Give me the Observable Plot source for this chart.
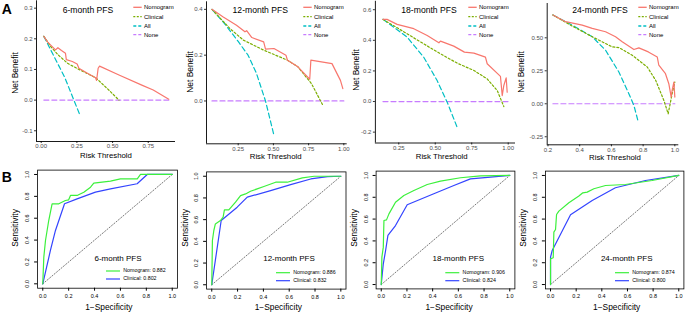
<!DOCTYPE html>
<html><head><meta charset="utf-8">
<script src="https://cdn.jsdelivr.net/npm/d3@7"></script>
<script src="https://cdn.jsdelivr.net/npm/@observablehq/plot@0.6"></script>
<style>
body{margin:0;background:#fff;}
#wrap{position:relative;width:685px;height:313px;overflow:hidden;font-family:"Liberation Sans",Arial,sans-serif;background:#fff;}
#wrap svg.plt{position:absolute;left:0;top:0;}
.t{position:absolute;white-space:nowrap;color:#000;line-height:1;}
</style></head><body><div id="wrap"></div>
<script>
// ---------------- DATA ----------------
const dcaTitles = ["6-month PFS","12-month PFS","18-month PFS","24-month PFS"];
const dcaSeries = ["Nomogram","Clinical","All","None"];
const rocSeries = ["Nomogram","Clinical"];
const rocAuc = [[0.882,0.802],[0.886,0.832],[0.906,0.824],[0.874,0.800]];

// Decision curves: [risk threshold, net benefit]
const nom6 = [[0.0185,0.208],[0.044,0.19],[0.100,0.164],[0.117,0.171],[0.142,0.162],[0.170,0.153],[0.176,0.132],[0.218,0.126],[0.252,0.118],[0.264,0.104],[0.327,0.087],[0.381,0.073],[0.388,0.064],[0.399,0.104],[0.409,0.111],[0.545,0.082],[0.709,0.048],[0.785,0.033],[0.894,0.003]];
const clin6 = [[0.0185,0.208],[0.065,0.176],[0.12,0.147],[0.185,0.12],[0.273,0.098],[0.382,0.073],[0.469,0.035],[0.545,0.0]];
const all6 = [[0.0185,0.208],[0.087,0.145],[0.164,0.075],[0.229,0.0],[0.268,-0.045]];
const none6 = [[0.0185,0],[0.894,0]];

const nom12 = [[0.064,0.40],[0.141,0.368],[0.238,0.331],[0.298,0.302],[0.31,0.307],[0.347,0.277],[0.431,0.258],[0.444,0.226],[0.504,0.229],[0.589,0.20],[0.60,0.178],[0.674,0.149],[0.758,0.095],[0.766,0.178],[0.916,0.163],[0.976,0.09],[0.993,0.054]];
const clin12 = [[0.064,0.40],[0.19,0.317],[0.286,0.266],[0.431,0.222],[0.60,0.178],[0.674,0.149],[0.77,0.076],[0.855,-0.023]];
const all12 = [[0.064,0.40],[0.15,0.34],[0.25,0.26],[0.32,0.20],[0.38,0.12],[0.444,0.0],[0.504,-0.15]];
const none12 = [[0.064,0],[1.0,0]];

const nom18 = [[0.142,0.537],[0.17,0.537],[0.239,0.504],[0.353,0.476],[0.445,0.432],[0.525,0.384],[0.536,0.395],[0.627,0.362],[0.70,0.323],[0.765,0.316],[0.844,0.29],[0.856,0.247],[0.947,0.164],[0.959,0.039],[0.97,0.105],[0.986,0.155],[0.993,0.061]];
const clin18 = [[0.142,0.537],[0.307,0.443],[0.421,0.377],[0.536,0.312],[0.65,0.251],[0.765,0.203],[0.856,0.148],[0.925,0.072],[0.97,-0.033]];
const all18 = [[0.142,0.537],[0.307,0.421],[0.421,0.29],[0.513,0.137],[0.582,-0.004],[0.65,-0.168]];
const none18 = [[0.142,0],[1.0,0]];

const nom24 = [[0.231,0.673],[0.311,0.622],[0.416,0.596],[0.479,0.571],[0.563,0.546],[0.626,0.508],[0.668,0.47],[0.742,0.411],[0.773,0.424],[0.833,0.393],[0.889,0.355],[0.899,0.292],[0.941,0.228],[0.962,0.152],[0.977,0.051],[0.983,0.102],[0.994,0.165],[1.0,0.051]];
const clin24 = [[0.231,0.673],[0.353,0.589],[0.479,0.508],[0.605,0.431],[0.647,0.426],[0.731,0.368],[0.826,0.279],[0.879,0.178],[0.931,0.025],[0.958,-0.076],[0.983,0.076],[1.0,0.165]];
const all24 = [[0.231,0.673],[0.353,0.596],[0.479,0.508],[0.563,0.406],[0.647,0.241],[0.71,0.076],[0.742,-0.013],[0.767,-0.127]];
const none24 = [[0.231,0],[1.0,0]];

// ROC curves: [1-specificity, sensitivity]
const rocNom6 = [[0,0],[0.008,0.244],[0.021,0.396],[0.046,0.579],[0.072,0.732],[0.124,0.732],[0.175,0.762],[0.2,0.768],[0.214,0.808],[0.265,0.808],[0.317,0.838],[0.369,0.884],[0.394,0.921],[0.523,0.939],[0.6,0.96],[0.73,0.96],[0.755,1.0],[1,1]];
const rocClin6 = [[0,0],[0.059,0.305],[0.098,0.488],[0.168,0.732],[0.265,0.777],[0.407,0.838],[0.523,0.869],[0.729,0.915],[0.807,1.0],[1,1]];
const rocNom12 = [[0,0],[0.005,0.408],[0.016,0.5],[0.028,0.561],[0.067,0.592],[0.088,0.623],[0.098,0.69],[0.132,0.69],[0.184,0.761],[0.223,0.822],[0.262,0.837],[0.3,0.862],[0.404,0.905],[0.495,0.945],[0.585,0.945],[0.702,0.985],[0.793,1.0],[1,1]];
const rocClin12 = [[0,0],[0.073,0.592],[0.197,0.715],[0.275,0.807],[0.456,0.868],[0.611,0.923],[0.767,0.975],[0.896,0.997],[1,1]];
const rocNom18 = [[0,0],[0.005,0.251],[0.016,0.343],[0.021,0.587],[0.041,0.593],[0.06,0.648],[0.111,0.755],[0.176,0.817],[0.254,0.862],[0.358,0.917],[0.461,0.948],[0.617,0.979],[0.772,0.997],[1,1]];
const rocClin18 = [[0,0],[0.016,0.19],[0.034,0.312],[0.052,0.45],[0.111,0.541],[0.202,0.731],[0.409,0.832],[0.565,0.908],[0.694,0.969],[0.85,0.985],[1,1]];
const rocNom24 = [[0,0],[0,0.235],[0.021,0.245],[0.026,0.48],[0.039,0.505],[0.047,0.642],[0.065,0.673],[0.143,0.75],[0.221,0.811],[0.252,0.841],[0.286,0.847],[0.338,0.878],[0.429,0.908],[0.584,0.917],[0.792,0.954],[1,1]];
const rocClin24 = [[0,0],[0,0.251],[0.013,0.312],[0.156,0.639],[0.325,0.771],[0.506,0.887],[0.74,0.954],[1,1]];

// Tick values
const dcaXTicks = [[0,0.25,0.5,0.75],[0.25,0.5,0.75,1],[0.25,0.5,0.75,1],[0.2,0.4,0.6,0.8,1.0]];
const dcaYTicks = [[-0.1,0,0.1,0.2,0.3],[0,0.2,0.4],[-0.2,0,0.2,0.4,0.6],[-0.25,0,0.25,0.5]];
const rocTicks = [0,0.2,0.4,0.6,0.8,1.0];

// ---------------- DRAW ----------------
const W = 685, H = 313;
const wrap = document.getElementById("wrap");
const COL = {Nomogram:"#F8766D", Clinical:"#7CAE00", All:"#00BFC4", None:"#C77CFF"};
const DASH = {Nomogram:null, Clinical:"2,2", All:"5,3", None:"5,3"};
const ROCCOL = {Nomogram:"#3cf03c", Clinical:"#3344ff"};

function txt(s, x, y, opt = {}) {
  const d = document.createElement("div");
  d.className = "t";
  d.textContent = s;
  d.style.left = x + "px"; d.style.top = y + "px";
  d.style.fontSize = (opt.size || 8) + "px";
  d.style.fontWeight = opt.bold ? "bold" : "normal";
  d.style.color = opt.color || "#000";
  let tr = opt.anchor === "start" ? "translate(0,-50%)" : "translate(-50%,-50%)";
  if (opt.rotate) tr += ` rotate(${opt.rotate}deg)`;
  d.style.transform = tr;
  wrap.append(d);
}
const NS = "http://www.w3.org/2000/svg";
const swSvg = document.createElementNS(NS, "svg");
swSvg.setAttribute("width", W); swSvg.setAttribute("height", H);
swSvg.style.position = "absolute"; swSvg.style.left = "0"; swSvg.style.top = "0";
function swatch(x1, x2, y, color, dash, w) {
  const l = document.createElementNS(NS, "line");
  l.setAttribute("x1", x1); l.setAttribute("x2", x2); l.setAttribute("y1", y); l.setAttribute("y2", y);
  l.setAttribute("stroke", color); l.setAttribute("stroke-width", w);
  if (dash) l.setAttribute("stroke-dasharray", dash);
  swSvg.append(l);
}
function addPlot(svg) { svg.classList.add("plt"); wrap.append(svg); }

const dcaData = [[nom6,clin6,all6,none6],[nom12,clin12,all12,none12],[nom18,clin18,all18,none18],[nom24,clin24,all24,none24]];
const dcaLayout = [
  {L:36, R:175, T:0.3, B:141, xd:[-0.033,0.941], yd:[-0.135,0.324], xf:2, yf:1},
  {L:206, R:346.7, T:1.3, B:143.3, xd:[0.025,1.024], yd:[-0.187,0.433], xf:2, yf:1},
  {L:374.9, R:515, T:0.8, B:142.5, xd:[0.09,1.05], yd:[-0.271,0.655], xf:2, yf:1},
  {L:546.7, R:678.3, T:3, B:144.3, xd:[0.195,1.025], yd:[-0.311,0.76], xf:1, yf:2}
];
dcaLayout.forEach((g, i) => {
  const marks = [
    Plot.axisX({ticks: dcaXTicks[i], tickFormat: d => d.toFixed(g.xf), tickSize: 2, tickPadding: 0.5, fontSize: 6, stroke: "#333", fill: "#4d4d4d", label: null}),
    Plot.axisY({ticks: dcaYTicks[i], tickFormat: d => d.toFixed(g.yf), tickSize: 2, tickPadding: 2, fontSize: 6, stroke: "#333", fill: "#4d4d4d", label: null}),
    Plot.ruleX([g.xd[0]], {stroke: "#000", strokeWidth: 0.9}),
    Plot.ruleY([g.yd[0]], {stroke: "#000", strokeWidth: 0.9})
  ];
  [3,2,1,0].forEach(k => {
    const s = dcaSeries[k];
    marks.push(Plot.line(dcaData[i][k], {x: d => d[0], y: d => d[1], stroke: COL[s], strokeWidth: 1.2, strokeDasharray: DASH[s]}));
  });
  addPlot(Plot.plot({
    width: W, height: H,
    marginLeft: g.L, marginRight: W - g.R, marginTop: g.T, marginBottom: H - g.B,
    x: {domain: g.xd}, y: {domain: g.yd},
    style: {background: "transparent", fontFamily: "Liberation Sans, Arial, sans-serif", overflow: "visible"},
    marks
  }));
});

const rocData = [[rocNom6,rocClin6],[rocNom12,rocClin12],[rocNom18,rocClin18],[rocNom24,rocClin24]];
const rocLayout = [
  {L:37.1, R:176.9, T:169.6, B:287.7},
  {L:206.1, R:345.5, T:171.4, B:288.6},
  {L:375.6, R:514.4, T:170.6, B:288.4},
  {L:544.9, R:683.4, T:170.6, B:288.4}
];
rocLayout.forEach((g, i) => {
  addPlot(Plot.plot({
    width: W, height: H,
    marginLeft: g.L, marginRight: W - g.R, marginTop: g.T, marginBottom: H - g.B,
    x: {domain: [-0.04, 1.04]}, y: {domain: [-0.04, 1.04]},
    style: {background: "transparent", fontFamily: "Liberation Sans, Arial, sans-serif", overflow: "visible"},
    marks: [
      Plot.axisX({ticks: rocTicks, tickFormat: d => d.toFixed(1), tickSize: 3, tickPadding: 2.5, fontSize: 5.5, stroke: "#000", fill: "#000", label: null}),
      Plot.axisY({ticks: rocTicks, tickFormat: d => d.toFixed(1), tickSize: 3, tickPadding: 5.5, tickRotate: -90, fontSize: 5.5, stroke: "#000", fill: "#000", label: null}),
      Plot.line([[0,0],[1,1]], {x: d => d[0], y: d => d[1], stroke: "#555", strokeWidth: 0.8, strokeDasharray: "1.2,1.8"}),
      Plot.line(rocData[i][1], {x: d => d[0], y: d => d[1], stroke: ROCCOL.Clinical, strokeWidth: 1.2}),
      Plot.line(rocData[i][0], {x: d => d[0], y: d => d[1], stroke: ROCCOL.Nomogram, strokeWidth: 1.2}),
      Plot.frame({stroke: "#000", strokeWidth: 0.8})
    ]
  }));
});

// ---------------- TEXT & LEGENDS ----------------
wrap.append(swSvg);
txt("A", 6.7, 8.5, {size: 14, bold: true});
txt("B", 6.7, 176.5, {size: 14, bold: true});

const dcaTitleX = [88, 260.3, 429, 600];
const dcaNetX = [15, 190, 356, 521];
const dcaNetY = [73, 72, 70, 72];
const dcaRiskX = [106, 275.7, 441.7, 615];
const dcaRiskY = [156, 157.2, 156.8, 157.5];
const dcaLegX = [133.3, 303.3, 468.3, 638.3];
const legRows = [7.3, 16.7, 26, 34.7];
for (let i = 0; i < 4; i++) {
  txt(dcaTitles[i], dcaTitleX[i], 9.5, {size: 8.6});
  txt("Net Benefit", dcaNetX[i], dcaNetY[i], {size: 8.4, rotate: -90});
  txt("Risk Threshold", dcaRiskX[i], dcaRiskY[i], {size: 7.8});
  dcaSeries.forEach((s, k) => {
    swatch(dcaLegX[i], dcaLegX[i] + 8.4, legRows[k], COL[s], DASH[s] ? (s === "Clinical" ? "2,1.5" : "3,2") : null, 1.3);
    txt(s, dcaLegX[i] + 10.7, legRows[k], {size: 6, anchor: "start"});
  });
}

const rocTitleX = [118, 289, 458.3, 626.7];
const rocTitleY = [259, 259.3, 259, 259.3];
const rocSensX = [15, 185, 354, 523.3];
const rocSpecX = [108.8, 278.3, 449, 616.7];
const rocLegX = [106, 276, 445.3, 615];
const rocLegY = [[271, 279], [272.7, 280.7], [272.7, 280.7], [272.7, 280.7]];
for (let i = 0; i < 4; i++) {
  txt(dcaTitles[i], rocTitleX[i], rocTitleY[i], {size: 8});
  txt("Sensitivity", rocSensX[i], 228, {size: 8.4, rotate: -90});
  txt("1\u2212Specificity", rocSpecX[i], 306.5, {size: 8.4});
  rocSeries.forEach((s, k) => {
    swatch(rocLegX[i], rocLegX[i] + 14, rocLegY[i][k], ROCCOL[s], null, 1.2);
    txt(`${s}: ${rocAuc[i][k].toFixed(3)}`, rocLegX[i] + 17.3, rocLegY[i][k], {size: 5.3, anchor: "start"});
  });
}
</script></body></html>
